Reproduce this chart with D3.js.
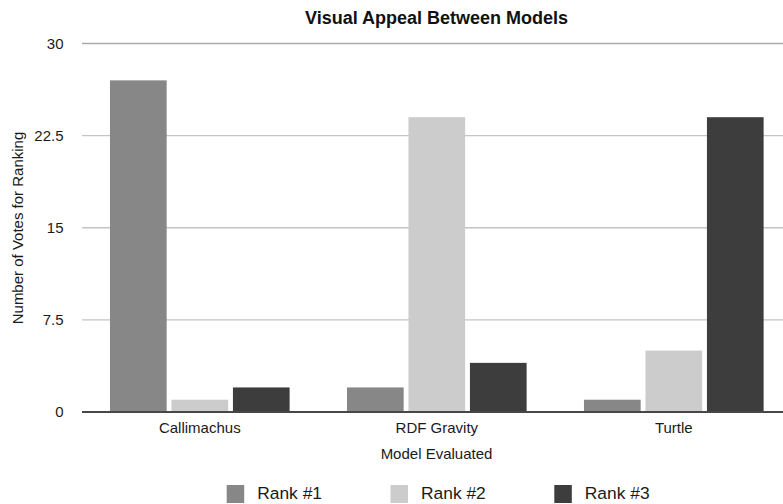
<!DOCTYPE html>
<html>
<head>
<meta charset="utf-8">
<script src="https://cdn.jsdelivr.net/npm/d3@7"></script>
<style>
  html, body { margin: 0; padding: 0; background: #fff; }
  svg { display: block; font-family: "Liberation Sans", Arial, Helvetica, sans-serif; }
</style>
</head>
<body>
<svg id="chart" width="783" height="504"></svg>
<script>
// Votes per model, one array per ranking position
const models = ["Callimachus", "RDF Gravity", "Turtle"];
const seriesNames = ["Rank #1", "Rank #2", "Rank #3"];
const rank1 = [27, 2, 1];
const rank2 = [1, 24, 5];
const rank3 = [2, 4, 24];
const yTicks = [0, 7.5, 15, 22.5, 30];
const colors = ["#868786", "#cbcccb", "#3c3d3c"];

const seriesValues = [rank1, rank2, rank3];
const rows = models.map((m, i) => ({
  model: m,
  values: seriesNames.map((s, j) => ({ series: s, value: seriesValues[j][i] }))
}));

const svg = d3.select("#chart");
const W = 783;

const x0 = d3.scaleBand().domain(models).range([81.3, 792.3])
  .paddingInner(0.242).paddingOuter(0.121);
const x1 = d3.scaleBand().domain(seriesNames).range([0, x0.bandwidth()])
  .paddingInner(0.078);
const y = d3.scaleLinear().domain([0, 30]).range([412, 43.5]);
const color = d3.scaleOrdinal().domain(seriesNames).range(colors);

// horizontal gridlines
svg.append("g").selectAll("line").data(yTicks.filter(t => t > 0)).join("line")
  .attr("x1", 82).attr("x2", W)
  .attr("y1", d => y(d)).attr("y2", d => y(d))
  .attr("stroke", d => d === 30 ? "#aaaaaa" : "#c4c4c4")
  .attr("stroke-width", 1.3);

// y tick labels
svg.append("g").selectAll("text").data(yTicks).join("text")
  .attr("x", 63.5).attr("y", d => y(d)).attr("dy", "0.36em")
  .attr("text-anchor", "end")
  .attr("font-size", 15).attr("fill", "#1a1a1a")
  .text(d => d);

// bars
const groups = svg.append("g").selectAll("g").data(rows).join("g")
  .attr("transform", d => `translate(${x0(d.model)},0)`);
groups.selectAll("rect").data(d => d.values).join("rect")
  .attr("x", d => x1(d.series))
  .attr("width", x1.bandwidth())
  .attr("y", d => y(d.value))
  .attr("height", d => y(0) - y(d.value))
  .attr("fill", d => color(d.series));

// baseline
svg.append("line")
  .attr("x1", 82).attr("x2", W)
  .attr("y1", y(0)).attr("y2", y(0))
  .attr("stroke", "#474747").attr("stroke-width", 2);

// category labels
svg.append("g").selectAll("text").data(models).join("text")
  .attr("x", d => x0(d) + x0.bandwidth() / 2).attr("y", 433)
  .attr("text-anchor", "middle")
  .attr("font-size", 15).attr("fill", "#1a1a1a")
  .text(d => d);

// axis titles
svg.append("text")
  .attr("x", 436.5).attr("y", 459)
  .attr("text-anchor", "middle")
  .attr("font-size", 15).attr("fill", "#1a1a1a")
  .text("Model Evaluated");

svg.append("text")
  .attr("transform", "translate(22.5,228) rotate(-90)")
  .attr("text-anchor", "middle")
  .attr("font-size", 15).attr("fill", "#1a1a1a")
  .text("Number of Votes for Ranking");

// title
svg.append("text")
  .attr("x", 436.5).attr("y", 23.5)
  .attr("text-anchor", "middle")
  .attr("font-size", 18).attr("font-weight", "bold").attr("fill", "#111")
  .text("Visual Appeal Between Models");

// legend
const legend = svg.append("g").selectAll("g").data(seriesNames).join("g")
  .attr("transform", (d, i) => `translate(${226.7 + i * 163.8},485)`);
legend.append("rect")
  .attr("width", 17.5).attr("height", 18)
  .attr("fill", d => color(d));
legend.append("text")
  .attr("x", 30.5).attr("y", 14.3)
  .attr("font-size", 17.4).attr("fill", "#1a1a1a")
  .text(d => d);
</script>
</body>
</html>
